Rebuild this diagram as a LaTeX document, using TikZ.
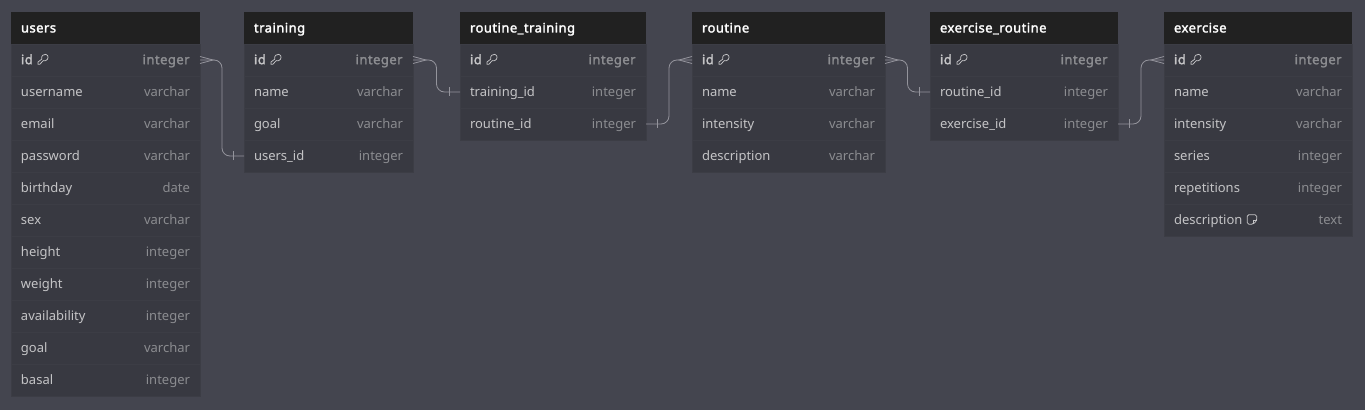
\documentclass[tikz,border=0pt]{standalone}
\usepackage{fontspec}
\setmainfont{Noto Sans}[BoldFont={Noto Sans},BoldFeatures={FakeBold=2,LetterSpace=3.6}]
\usepackage{xcolor}
\usetikzlibrary{calc}
\definecolor{canvascolor}{HTML}{44454F}
\definecolor{headcolor}{HTML}{212121}
\definecolor{rowcolor}{HTML}{383941}
\definecolor{rowline}{HTML}{3C3D45}
\definecolor{namecolor}{HTML}{C4C4C6}
\definecolor{typecolor}{HTML}{8B8C90}
\definecolor{linkcolor}{HTML}{94949C}
\newcommand{\rowstrut}{\rule[-2.7pt]{0pt}{11.7pt}}
\tikzstyle{tablehead} = [
    fill=headcolor,
    text=white,
    font=\fontsize{9.75}{12}\selectfont\bfseries,
    anchor=north west,
    inner xsep=7.5pt,
    inner ysep=0pt,
    outer sep=0pt
    ]
\tikzstyle{tablerow} = [
    fill=rowcolor,
    draw=rowline,
    line width=0.4pt,
    text=namecolor,
    font=\fontsize{9.75}{12}\selectfont,
    anchor=north west,
    inner xsep=7.5pt,
    inner ysep=0pt,
    outer sep=0pt,
    minimum height=24pt
    ]
\tikzstyle{link} = [
    draw=linkcolor,
    line width=0.6pt
    ]
\newsavebox{\keybox}
\sbox{\keybox}{\tikz[x=0.75pt,y=-0.75pt,baseline=-7.5pt]{
    \draw[namecolor,line width=0.55pt] (0.7,10) -- (0.7,7.8) -- (4.4,5)
        .. controls (3.6,1.5) and (6.5,-0.3) .. (8.5,0.1)
        .. controls (11.8,1) and (11.5,5.5) .. (8,6.6)
        .. controls (7.2,6.9) and (6.6,6.7) .. (6,6.4)
        -- (2.6,10) -- cycle;
}}
\newsavebox{\notebox}
\sbox{\notebox}{\tikz[x=0.75pt,y=-0.75pt,baseline=-7.5pt]{
    \draw[namecolor,line width=0.6pt,rounded corners=1.2pt] (7,10) -- (1,10) -- (1,0.5) -- (10.5,0.5) -- (10.5,6.5) -- cycle;
    \draw[namecolor,line width=0.6pt] (7,10) -- (7,6.5) -- (10.5,6.5);
}}
\newcommand{\dbtable}[5]{
    \node[tablehead,text width=#3*0.75pt-15pt,minimum height=23.6pt] (#1) at (#2,12.5) {#4\rowstrut};
    \node[tablerow,text width=#3*0.75pt-15pt] (#1-id) at (#2,44) {\textbf{id}\ \usebox{\keybox}\hfill{\color{typecolor}\textbf{integer}}\rowstrut};
    \foreach \fname/\ftype [count=\i] in {#5}{
        \node[tablerow,text width=#3*0.75pt-15pt] (#1-\i) at (#2,44+32*\i) {\fname\hfill{\color{typecolor}\ftype}\rowstrut};
    }
}
% bends halfway between the two tables
\newcommand{\dblink}[2]{
    \draw[link,rounded corners=6pt] (#1.east) -| ($(#1.east)!0.5!(#2.west)$) |- (#2.west);
}
% #2 is 1 to the right of the anchor, -1 to the left
\newcommand{\crowfoot}[2]{
    \draw[link] ($(#1)+(0,-3.5)$) -- ($(#1)+(#2*13,0)$) -- ($(#1)+(0,3.5)$);
}
\newcommand{\crossbar}[2]{
    \draw[link] ($(#1)+(#2*11,-4.5)$) -- ($(#1)+(#2*11,4.5)$);
}

\begin{document}
\begin{tikzpicture}[x=0.75pt,y=-0.75pt]
\fill[canvascolor] (0,0) rectangle (1365,410);
\useasboundingbox (0,0) rectangle (1365,410);

\dbtable{users}{11}{189}{users}{username/varchar,email/varchar,password/varchar,birthday/date,sex/varchar,height/integer,weight/integer,availability/integer,goal/varchar,basal/integer}
\dbtable{training}{244}{169}{training}{name/varchar,goal/varchar,users\_id/integer}
\dbtable{routinetraining}{460}{186}{routine\_training}{training\_id/integer,routine\_id/integer}
\dbtable{routine}{692}{193}{routine}{name/varchar,intensity/varchar,description/varchar}
\dbtable{exerciseroutine}{930}{188}{exercise\_routine}{routine\_id/integer,exercise\_id/integer}
\dbtable{exercise}{1164}{188}{exercise}{name/varchar,intensity/varchar,series/integer,repetitions/integer,description\ \usebox{\notebox}/text}

% users -> training
\dblink{users-id}{training-3}
\crowfoot{users-id.east}{1}
\crossbar{training-3.west}{-1}
% training -> routine_training
\dblink{training-id}{routinetraining-1}
\crowfoot{training-id.east}{1}
\crossbar{routinetraining-1.west}{-1}
% routine_training -> routine
\dblink{routinetraining-2}{routine-id}
\crossbar{routinetraining-2.east}{1}
\crowfoot{routine-id.west}{-1}
% routine -> exercise_routine
\dblink{routine-id}{exerciseroutine-1}
\crowfoot{routine-id.east}{1}
\crossbar{exerciseroutine-1.west}{-1}
% exercise_routine -> exercise
\dblink{exerciseroutine-2}{exercise-id}
\crossbar{exerciseroutine-2.east}{1}
\crowfoot{exercise-id.west}{-1}
\end{tikzpicture}
\end{document}
